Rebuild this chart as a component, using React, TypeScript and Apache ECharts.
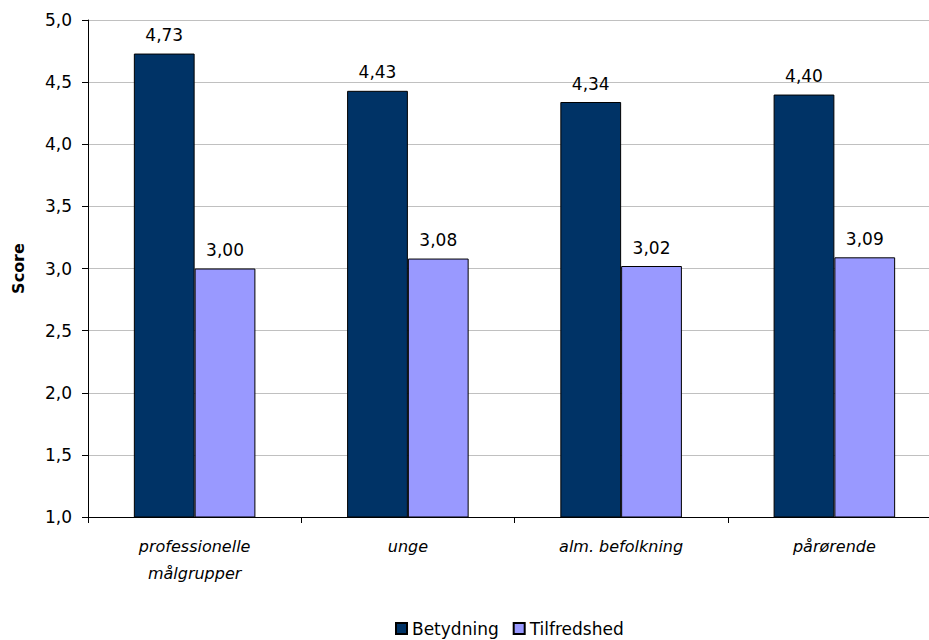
import React, { useEffect, useRef } from "react";
import * as echarts from "echarts";

const categories = ["professionelle\nmålgrupper", "unge", "alm. befolkning", "pårørende"];
const betydning = [4.73, 4.43, 4.34, 4.4];
const tilfredshed = [3.0, 3.08, 3.02, 3.09];
const seriesNames = ["Betydning", "Tilfredshed"];
const yMin = 1.0;
const yMax = 5.0;
const yInterval = 0.5;

const FONT = "DejaVu Sans";

export default function App() {
  const ref = useRef<HTMLDivElement>(null);
  useEffect(() => {
    if (!ref.current) return;
    const chart = echarts.init(ref.current, undefined, { renderer: "svg" });
    const fmt2 = (v: number) => v.toFixed(2).replace(".", ",");
    chart.setOption({
      animation: false,
      backgroundColor: "#ffffff",
      textStyle: { fontFamily: FONT },
      grid: { left: 88, right: 19, top: 20, bottom: 123, containLabel: false },
      legend: {
        data: seriesNames,
        left: 390,
        top: 615,
        itemWidth: 11,
        itemHeight: 11,
        itemGap: 14,
        icon: "rect",
        textStyle: { fontFamily: FONT, fontSize: 17, color: "#000" },
      },
      xAxis: {
        type: "category",
        data: categories,
        axisLine: { lineStyle: { color: "#000", width: 1 } },
        axisTick: { show: true, alignWithLabel: false, length: 6, lineStyle: { color: "#000" } },
        axisLabel: {
          fontFamily: FONT,
          fontSize: 16,
          fontStyle: "italic",
          color: "#000",
          margin: 16,
          lineHeight: 27,
          interval: 0,
        },
      },
      yAxis: {
        type: "value",
        min: yMin,
        max: yMax,
        interval: yInterval,
        name: "Score",
        nameLocation: "middle",
        nameGap: 62,
        nameRotate: 90,
        nameTextStyle: { fontFamily: FONT, fontSize: 16, fontWeight: "bold", color: "#000" },
        axisLine: { show: true, lineStyle: { color: "#000", width: 1 } },
        axisTick: { show: true, length: 6, lineStyle: { color: "#000" } },
        axisLabel: {
          fontFamily: FONT,
          fontSize: 17,
          color: "#000",
          margin: 16,
          formatter: (v: number) => v.toFixed(1).replace(".", ","),
        },
        splitLine: { show: true, lineStyle: { color: "#c0c0c0", width: 1 } },
      },
      series: [
        {
          name: seriesNames[0],
          type: "bar",
          data: betydning,
          barGap: "0%",
          barCategoryGap: "43%",
          itemStyle: { color: "#003366", borderColor: "#000", borderWidth: 1 },
          label: {
            show: true,
            position: "top",
            distance: 10,
            fontFamily: FONT,
            fontSize: 17,
            color: "#000",
            formatter: (p: any) => fmt2(p.value),
          },
        },
        {
          name: seriesNames[1],
          type: "bar",
          data: tilfredshed,
          barGap: "0%",
          barCategoryGap: "43%",
          itemStyle: { color: "#9999ff", borderColor: "#000", borderWidth: 1 },
          label: {
            show: true,
            position: "top",
            distance: 10,
            fontFamily: FONT,
            fontSize: 17,
            color: "#000",
            formatter: (p: any) => fmt2(p.value),
          },
        },
      ],
    });
    return () => chart.dispose();
  }, []);
  return (
    <div style={{ position: "fixed", left: 0, top: 0, width: 929, height: 640, overflow: "hidden", background: "#fff" }}>
      <div ref={ref} style={{ width: 960, height: 640 }} />
    </div>
  );
}
